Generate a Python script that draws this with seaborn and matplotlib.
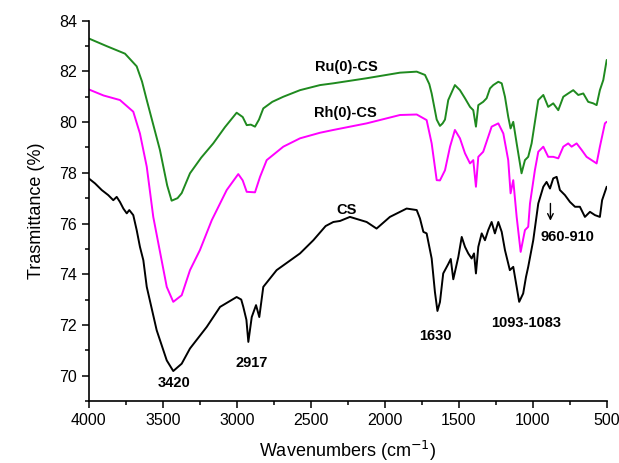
import numpy as np
import pandas as pd
import matplotlib
matplotlib.use("Agg")
import matplotlib.pyplot as plt
import seaborn as sns
from matplotlib.ticker import MultipleLocator

# ---------------- data ----------------
ru_wn = [4000, 3880, 3755, 3676, 3640, 3608, 3519, 3470, 3440, 3400, 3372, 3316, 3240, 3159, 3080,
         3001, 2960, 2933, 2905, 2877, 2850, 2821, 2760, 2686, 2573, 2438, 2348, 2123, 1898, 1785,
         1729, 1700, 1684, 1650, 1628, 1610, 1594, 1572, 1527, 1493, 1459, 1425, 1403, 1385, 1369,
         1336, 1313, 1290, 1268, 1234, 1211, 1189, 1167, 1151, 1133, 1110, 1077, 1054, 1032, 1009,
         964, 930, 897, 863, 829, 795, 762, 728, 694, 660, 627, 593, 570, 548, 525, 502]
ru_t = [83.3, 83.0, 82.7, 82.2, 81.6, 80.87, 78.9, 77.5, 76.9, 77.0, 77.2, 77.98, 78.6, 79.16, 79.8,
        80.37, 80.2, 79.88, 79.9, 79.82, 80.1, 80.54, 80.8, 81.0, 81.26, 81.46, 81.53, 81.73, 81.95, 81.99,
        81.86, 81.5, 81.13, 80.1, 79.85, 79.95, 80.1, 80.87, 81.46, 81.26, 80.94, 80.6, 80.47, 79.82, 80.67,
        80.8, 80.94, 81.33, 81.46, 81.59, 81.53, 81.0, 80.21, 79.75, 80.01, 79.16, 77.98, 78.5, 78.63, 79.16,
        80.87, 81.07, 80.6, 80.74, 80.47, 81.0, 81.13, 81.26, 81.07, 81.13, 80.8, 80.74, 80.67, 81.26, 81.66, 82.45]

rh_wn = [4000, 3900, 3789, 3699, 3654, 3608, 3564, 3473, 3429, 3372, 3316, 3249, 3169, 3068, 2990,
         2960, 2933, 2877, 2843, 2798, 2686, 2573, 2438, 2348, 2123, 1898, 1785, 1718, 1684, 1650,
         1628, 1594, 1560, 1527, 1493, 1459, 1425, 1403, 1385, 1369, 1336, 1302, 1279, 1234, 1200,
         1167, 1151, 1133, 1110, 1083, 1054, 1032, 1020, 987, 964, 930, 897, 863, 829, 795,
         762, 739, 705, 671, 638, 604, 570, 548, 514, 502]
rh_t = [81.29, 81.05, 80.87, 80.41, 79.55, 78.24, 76.26, 73.5, 72.91, 73.17, 74.16, 74.95, 76.13, 77.32, 77.95,
        77.7, 77.25, 77.23, 77.84, 78.5, 79.03, 79.36, 79.58, 79.69, 79.95, 80.28, 80.3, 80.08, 79.16, 77.71,
        77.7, 78.1, 79.03, 79.69, 79.36, 78.77, 78.37, 78.5, 77.45, 78.63, 78.83, 79.42, 79.82, 79.95, 79.55,
        78.5, 77.19, 77.71, 76.26, 74.88, 75.74, 75.87, 76.79, 78.1, 78.83, 79.03, 78.63, 78.63, 78.57, 79.03,
        79.16, 79.03, 79.16, 78.9, 78.63, 78.5, 78.37, 79.03, 79.95, 80.01]

cs_wn = [4000, 3957, 3912, 3868, 3834, 3811, 3789, 3766, 3743, 3726, 3699, 3676, 3654, 3631, 3608,
         3541, 3473, 3429, 3372, 3316, 3203, 3113, 3001, 2970, 2956, 2935, 2922, 2899, 2870, 2848,
         2821, 2731, 2573, 2483, 2400, 2348, 2303, 2236, 2123, 2056, 1966, 1853, 1785, 1763, 1740,
         1718, 1684, 1662, 1645, 1628, 1606, 1572, 1555, 1538, 1504, 1481, 1459, 1437, 1414, 1398,
         1385, 1369, 1346, 1324, 1302, 1279, 1257, 1234, 1211, 1189, 1156, 1133, 1110, 1093, 1066,
         1047, 1032, 998, 964, 930, 908, 885, 863, 840, 818, 784, 750, 716, 683, 649,
         615, 581, 548, 533, 502]
cs_t = [77.78, 77.58, 77.32, 77.12, 76.92, 77.05, 76.85, 76.59, 76.4, 76.53, 76.33, 75.74, 75.08, 74.55, 73.5,
        71.79, 70.6, 70.18, 70.47, 71.07, 71.92, 72.71, 73.1, 73.0, 72.71, 72.2, 71.33, 72.31, 72.78, 72.31,
        73.5, 74.16, 74.82, 75.34, 75.9, 76.06, 76.1, 76.26, 76.06, 75.8, 76.26, 76.59, 76.53, 76.2, 75.67,
        75.61, 74.62, 73.3, 72.55, 72.9, 74.03, 74.4, 74.6, 73.8, 74.68, 75.47, 75.08, 74.82, 74.62, 74.82,
        74.03, 75.08, 75.61, 75.34, 75.74, 76.06, 75.61, 76.06, 75.67, 74.95, 74.16, 74.29, 73.5, 72.91, 73.24,
        73.89, 74.29, 75.34, 76.79, 77.45, 77.64, 77.38, 77.78, 77.84, 77.32, 77.12, 76.85, 76.66, 76.66, 76.26,
        76.46, 76.33, 76.26, 76.92, 77.45]

series_names = ["Ru(0)-CS", "Rh(0)-CS", "CS"]
series_colors = ["#1f8a1f", "#ff00ff", "#000000"]

peak_labels = ["3420", "2917", "1630", "1093-1083", "960-910"]
peak_x = [3421, 2897, 1656, 1049, 764]
peak_y = [69.72, 70.51, 71.55, 72.08, 75.45]

name_x = [2259, 2270, 2258]
name_y = [82.17, 80.34, 76.53]

# ---------------- figure ----------------
sns.set_style("ticks")
plt.rcParams['font.family'] = ['Liberation Sans', 'DejaVu Sans']
plt.rcParams['text.color'] = 'black'
plt.rcParams['axes.labelcolor'] = 'black'
plt.rcParams['xtick.color'] = 'black'
plt.rcParams['ytick.color'] = 'black'

fig = plt.figure(figsize=(6.19, 4.63), dpi=100)
ax = fig.add_axes([0.1433, 0.134, 0.8373, 0.8213])

for wn, t, col in zip([ru_wn, rh_wn, cs_wn], [ru_t, rh_t, cs_t], series_colors):
    df = pd.DataFrame({"wn": wn, "t": t})
    sns.lineplot(data=df, x="wn", y="t", ax=ax, color=col, lw=1.4, sort=False,
                 estimator=None, legend=False)

ax.set_xlim(4000, 500)
ax.set_ylim(69, 84)
ax.xaxis.set_major_locator(MultipleLocator(500))
ax.xaxis.set_minor_locator(MultipleLocator(250))
ax.yaxis.set_major_locator(MultipleLocator(2))
ax.yaxis.set_minor_locator(MultipleLocator(1))
ax.tick_params(which='major', length=5, width=1.1, labelsize=11.5, direction='out',
               colors='black', labelcolor='black')
ax.tick_params(which='minor', length=3, width=1.1, direction='out', colors='black')
for s in ['top', 'right']:
    ax.spines[s].set_visible(False)
for s in ['left', 'bottom']:
    ax.spines[s].set_linewidth(1.2)
    ax.spines[s].set_color('black')

ax.set_xlabel("Wavenumbers (cm$^{-1}$)", fontsize=13, labelpad=8, color='black')
ax.set_ylabel("Trasmittance (%)", fontsize=13, labelpad=10, color='black')

for lab, x, y in zip(series_names, name_x, name_y):
    ax.text(x, y, lab, fontsize=10.5, fontweight='bold', ha='center', va='center', color='black')
for lab, x, y in zip(peak_labels, peak_x, peak_y):
    ax.text(x, y, lab, fontsize=10.5, fontweight='bold', ha='center', va='center', color='black')

ax.annotate("", xy=(882, 76.0), xytext=(882, 76.9),
            arrowprops=dict(arrowstyle='->', color='black', lw=1.0))

fig.savefig("out.png", dpi=100)
